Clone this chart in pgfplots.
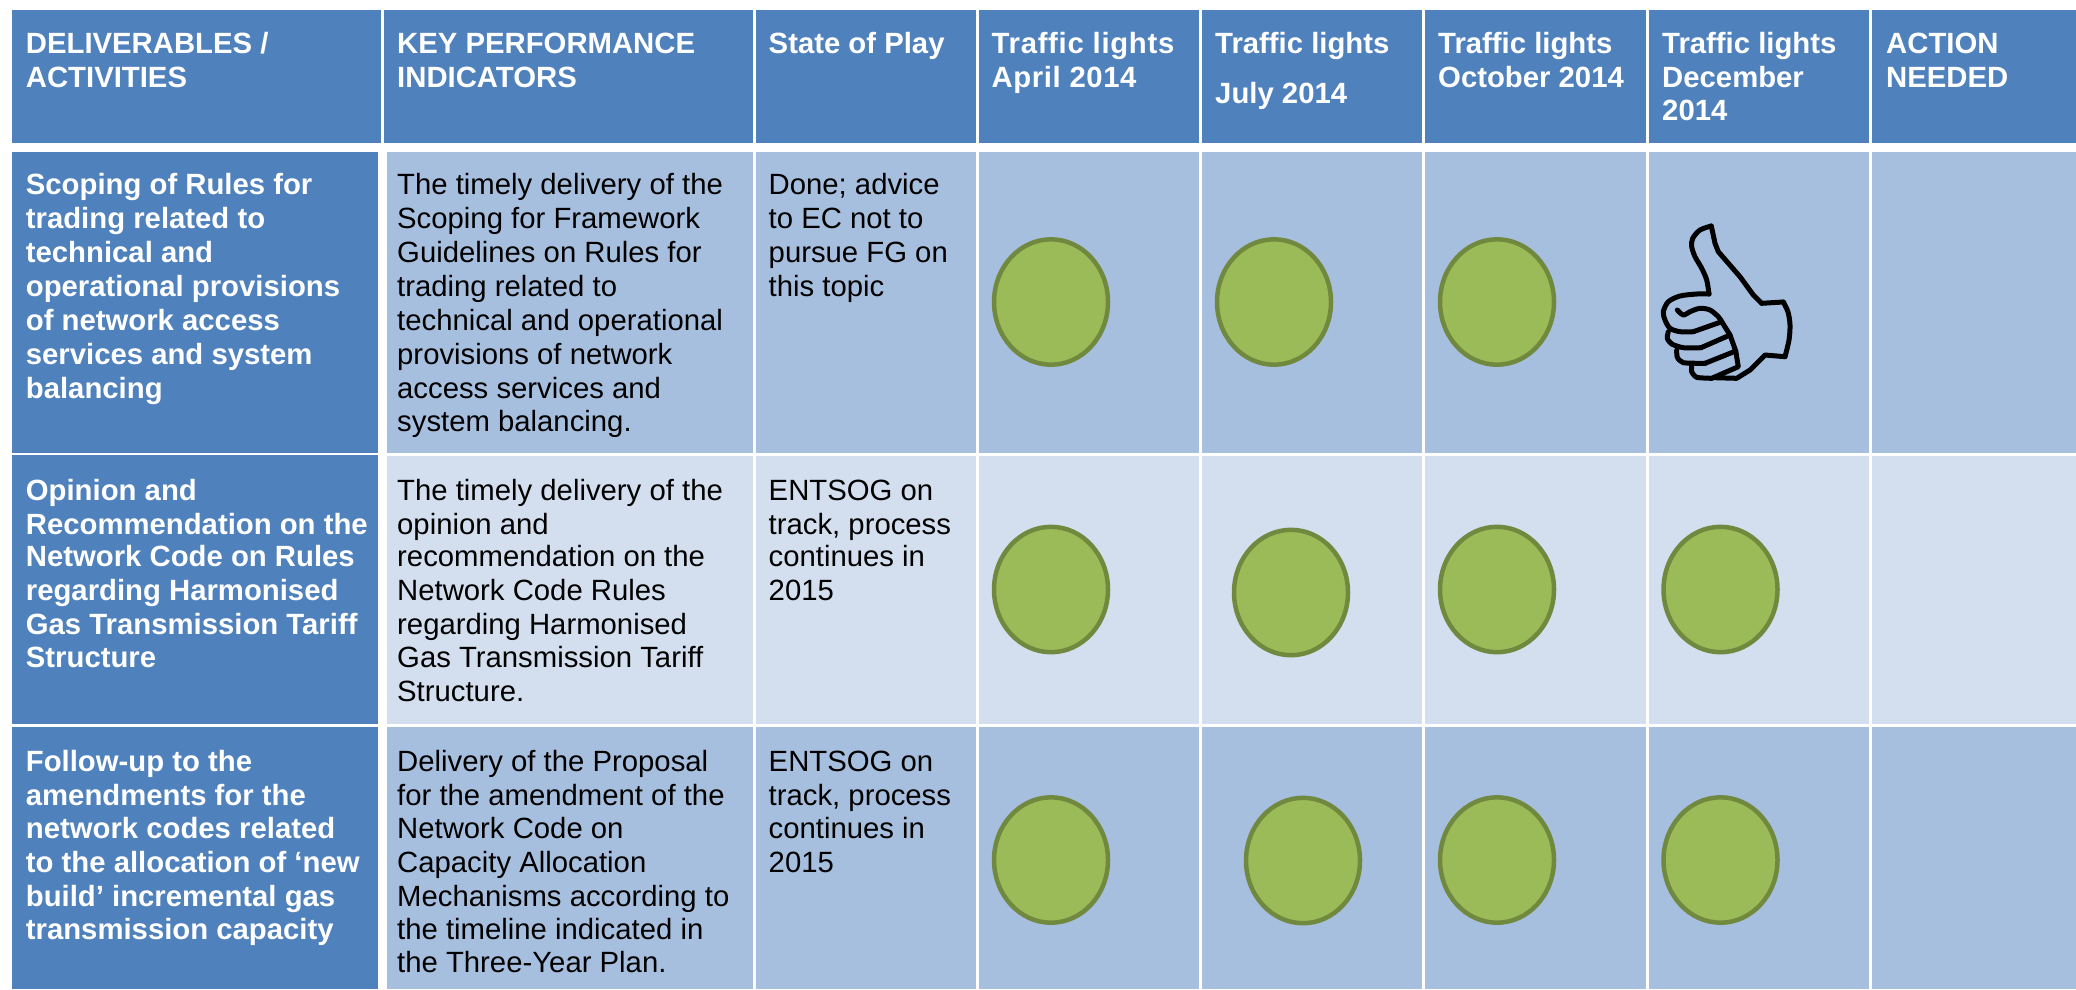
\documentclass[border=0pt]{standalone}
\usepackage{pgfplots}
\pgfplotsset{compat=1.18}
\usepackage{fontspec}
\setmainfont[Ligatures=NoCommon]{Liberation Sans}
\definecolor{hdr}{HTML}{4F81BD}
\definecolor{bandA}{HTML}{A7BFDE}
\definecolor{bandB}{HTML}{D3DFEE}
\definecolor{lgreen}{HTML}{9BBB59}
\definecolor{lgreenb}{HTML}{71893F}
\newcommand\cell[5]{\addplot[fill=#5,draw=none] coordinates {(#1,#2)(#3,#2)(#3,#4)(#1,#4)} -- cycle;}
\newcommand\tl[4]{\node[anchor=base west,inner sep=0pt,yshift=-1pt,text=#4,font=\fontsize{29.3}{34}\selectfont] at (axis cs:#1,#2) {#3};}
\newcommand\tb[4]{\node[anchor=base west,inner sep=0pt,yshift=-1pt,text=#4,font=\fontsize{29.3}{34}\selectfont\bfseries] at (axis cs:#1,#2) {#3};}
\begin{document}
\begin{tikzpicture}
\begin{axis}[scale only axis,width=2076pt,height=989pt,xmin=0,xmax=2076,ymin=0,ymax=989,y dir=reverse,hide axis,clip=true]
\cell{0}{0}{2076}{989}{white}
% header
\cell{12}{10}{381}{143}{hdr}
\cell{384}{10}{753}{143}{hdr}
\cell{756}{10}{976}{143}{hdr}
\cell{979}{10}{1199}{143}{hdr}
\cell{1202}{10}{1422}{143}{hdr}
\cell{1425}{10}{1646}{143}{hdr}
\cell{1649}{10}{1869}{143}{hdr}
\cell{1872}{10}{2076}{143}{hdr}
% first col
\cell{12}{152}{378}{453}{hdr}
\cell{12}{455}{378}{723.5}{hdr}
\cell{12}{727}{378}{989}{hdr}
% body
\cell{387}{152}{753}{453}{bandA}
\cell{756}{152}{976}{453}{bandA}
\cell{979}{152}{1199}{453}{bandA}
\cell{1202}{152}{1422}{453}{bandA}
\cell{1425}{152}{1646}{453}{bandA}
\cell{1649}{152}{1869}{453}{bandA}
\cell{1872}{152}{2076}{453}{bandA}
\cell{387}{456}{753}{723.5}{bandB}
\cell{756}{456}{976}{723.5}{bandB}
\cell{979}{456}{1199}{723.5}{bandB}
\cell{1202}{456}{1422}{723.5}{bandB}
\cell{1425}{456}{1646}{723.5}{bandB}
\cell{1649}{456}{1869}{723.5}{bandB}
\cell{1872}{456}{2076}{723.5}{bandB}
\cell{387}{727}{753}{989}{bandA}
\cell{756}{727}{976}{989}{bandA}
\cell{979}{727}{1199}{989}{bandA}
\cell{1202}{727}{1422}{989}{bandA}
\cell{1425}{727}{1646}{989}{bandA}
\cell{1649}{727}{1869}{989}{bandA}
\cell{1872}{727}{2076}{989}{bandA}
% lights
\addplot[only marks,mark=*,mark size=57pt,mark options={yscale=1.1,fill=lgreen,draw=lgreenb,line width=4.5pt}] coordinates {
(1051,302)(1274,302)(1497,302)
(1051,589.5)(1291,592.5)(1497,589.5)(1720.5,589.5)
(1051,860)(1303,860.5)(1497,860)(1720.5,860)};
% thumb
\pgfplotsset{thumb/.style={black,line width=5pt,line join=round,line cap=round}}
\addplot[thumb,smooth,tension=0.5] coordinates {(1711.3,226)(1700,230)(1692.7,238.3)(1691.7,246.7)(1695,256.7)(1701.7,268.3)(1706.7,280)(1709,294)};
\addplot[thumb] coordinates {(1761.7,303.3)(1753.3,295)(1740,276.7)(1718.3,251.7)(1715,243.3)(1711.3,226)};
\addplot[thumb,smooth,tension=0.5] coordinates {(1709,294)(1696.7,294)(1680,296)(1668.3,301.7)(1663.3,311.7)(1665,320)(1670,328.3)(1680,331.7)(1693.3,331.7)};
\addplot[thumb,smooth,tension=0.5] coordinates {(1677.3,310)(1683.3,315)(1690,311.7)(1700,308.3)(1710,310)(1718.3,316.7)(1721.7,321.7)};
\addplot[thumb] coordinates {(1721.7,321.7)(1693.3,331.7)};
\addplot[thumb,smooth,tension=0.4] coordinates {(1668.3,331.7)(1667.3,338.3)(1671.7,344)(1683.3,347.7)(1701,347.7)};
\addplot[thumb] coordinates {(1701,347.7)(1730,335)(1721.7,321.7)};
\addplot[thumb,smooth,tension=0.4] coordinates {(1676.7,350)(1677.3,357.3)(1683.3,362.7)(1705,363.3)};
\addplot[thumb] coordinates {(1705,363.3)(1735.7,351)(1730,335)};
\addplot[thumb,smooth,tension=0.4] coordinates {(1691.7,365)(1691.7,371.7)(1696.7,377.3)(1711.7,378.3)};
\addplot[thumb] coordinates {(1711.7,378.3)(1738.3,366.7)(1735.7,351)};
\addplot[thumb] coordinates {(1715,377.7)(1736.7,378.3)(1750,370)(1765,355)(1785,356.7)};
\addplot[thumb,smooth,tension=0.5] coordinates {(1785,356.7)(1789,340)(1790,325)(1788,312)(1783.3,302)};
\addplot[thumb] coordinates {(1783.3,302)(1761.7,303.3)};
% header text
\tb{25.7}{52}{DELIVERABLES /}{white}
\tb{25.7}{86}{ACTIVITIES}{white}
\tb{397}{52}{KEY PERFORMANCE}{white}
\tb{397}{86}{INDICATORS}{white}
\tb{768.5}{52}{State of Play}{white}
\tb{991.5}{52}{\addfontfeature{LetterSpace=2.4}Traffic lights}{white}
\tb{991.5}{86}{\addfontfeature{LetterSpace=2}April 2014}{white}
\tb{1215}{52}{Traffic lights}{white}
\tb{1215}{102}{July 2014}{white}
\tb{1438}{52}{Traffic lights}{white}
\tb{1438}{86}{October 2014}{white}
\tb{1662}{52}{Traffic lights}{white}
\tb{1662}{86}{December}{white}
\tb{1662}{119}{2014}{white}
\tb{1886}{52}{ACTION}{white}
\tb{1886}{86}{NEEDED}{white}
% row 1
\tb{25.7}{193}{Scoping of Rules for}{white}
\tb{25.7}{227}{trading related to}{white}
\tb{25.7}{261}{technical and}{white}
\tb{25.7}{295}{operational provisions}{white}
\tb{25.7}{329}{of network access}{white}
\tb{25.7}{363}{services and system}{white}
\tb{25.7}{397}{balancing}{white}
\tl{397}{193}{The timely delivery of the}{black}
\tl{397}{227}{Scoping for Framework}{black}
\tl{397}{261}{Guidelines on Rules for}{black}
\tl{397}{295}{trading related to}{black}
\tl{397}{329}{technical and operational}{black}
\tl{397}{363}{provisions of network}{black}
\tl{397}{397}{access services and}{black}
\tl{397}{430}{system balancing.}{black}
\tl{768.5}{193}{Done; advice}{black}
\tl{768.5}{227}{to EC not to}{black}
\tl{768.5}{261}{pursue FG on}{black}
\tl{768.5}{295}{this topic}{black}
% row 2
\tb{25.7}{499}{Opinion and}{white}
\tb{25.7}{533}{Recommendation on the}{white}
\tb{25.7}{565}{Network Code on Rules}{white}
\tb{25.7}{599}{regarding Harmonised}{white}
\tb{25.7}{633}{Gas Transmission Tariff}{white}
\tb{25.7}{666}{Structure}{white}
\tl{397}{499}{The timely delivery of the}{black}
\tl{397}{533}{opinion and}{black}
\tl{397}{565}{recommendation on the}{black}
\tl{397}{599}{Network Code Rules}{black}
\tl{397}{633}{regarding Harmonised}{black}
\tl{397}{666}{Gas Transmission Tariff}{black}
\tl{397}{700}{Structure.}{black}
\tl{768.5}{499}{ENTSOG on}{black}
\tl{768.5}{533}{track, process}{black}
\tl{768.5}{565}{continues in}{black}
\tl{768.5}{599}{2015}{black}
% row 3
\tb{25.7}{770}{Follow-up to the}{white}
\tb{25.7}{804}{amendments for the}{white}
\tb{25.7}{837}{network codes related}{white}
\tb{25.7}{871}{to the allocation of ‘new}{white}
\tb{25.7}{905}{build’ incremental gas}{white}
\tb{25.7}{938}{transmission capacity}{white}
\tl{397}{770}{Delivery of the Proposal}{black}
\tl{397}{804}{for the amendment of the}{black}
\tl{397}{837}{Network Code on}{black}
\tl{397}{871}{Capacity Allocation}{black}
\tl{397}{905}{Mechanisms according to}{black}
\tl{397}{938}{the timeline indicated in}{black}
\tl{397}{971.5}{the Three-Year Plan.}{black}
\tl{768.5}{770}{ENTSOG on}{black}
\tl{768.5}{804}{track, process}{black}
\tl{768.5}{837}{continues in}{black}
\tl{768.5}{871}{2015}{black}
\end{axis}
\end{tikzpicture}
\end{document}
